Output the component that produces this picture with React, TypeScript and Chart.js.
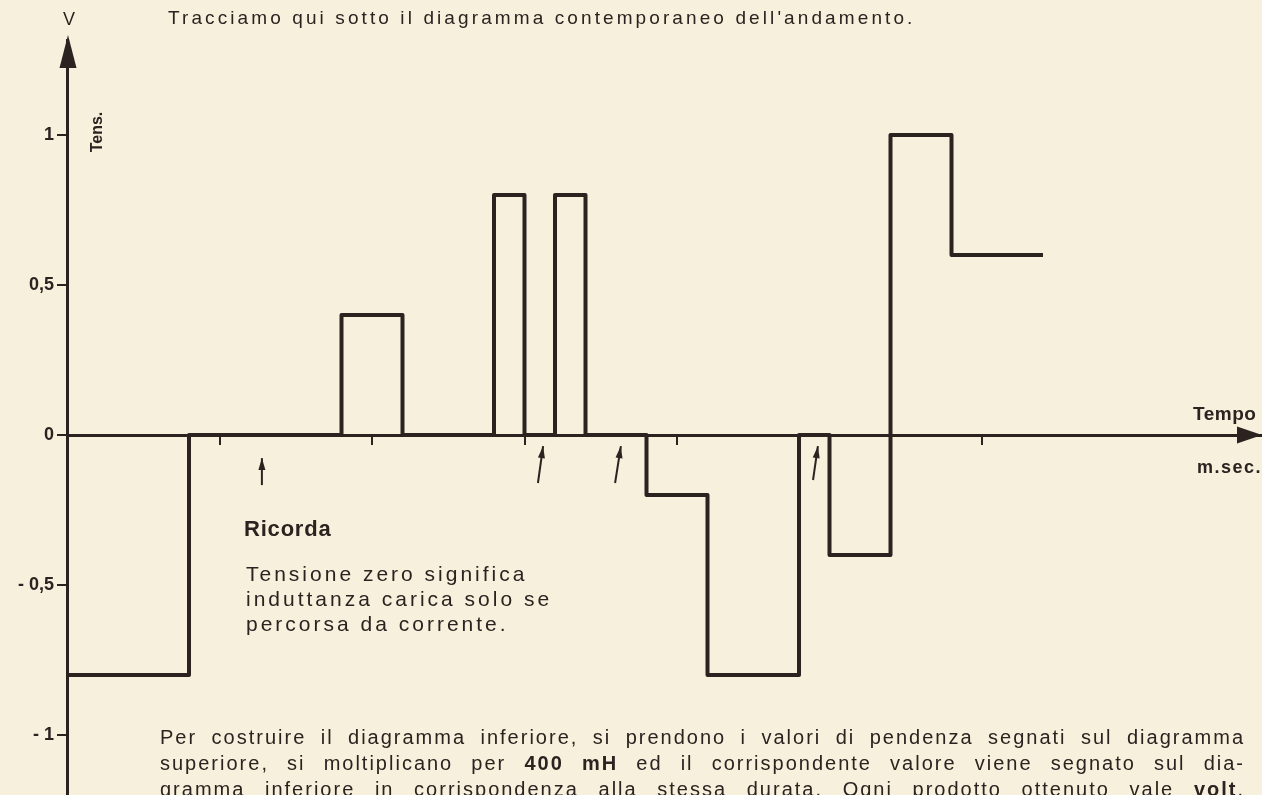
import { useEffect, useRef } from "react";
import { Chart, registerables } from "chart.js";

Chart.register(...registerables);

// ---- data ----
const stepStarts = [0, 4, 9, 11, 14, 15, 16, 17, 19, 21, 24, 25, 27, 29, 32];
const stepValues = [-0.8, 0, 0.4, 0, 0.8, 0, 0.8, 0, -0.2, -0.8, 0, -0.4, 1, 0.6, 0.6];
const yTickValues = [-1, -0.5, 0, 0.5, 1];
const yTickLabels = ["- 1", "- 0,5", "0", "0,5", "1"];
const xTickValues = [5, 10, 15, 20, 25, 30];
const arrowTailX = [6.39, 15.44, 17.97, 24.46];
const arrowTailY = [-0.167, -0.16, -0.16, -0.15];
const arrowTipX = [6.39, 15.61, 18.16, 24.62];
const arrowTipY = [-0.077, -0.037, -0.037, -0.037];
const X_MIN = 0;
const X_MAX = 39.18;
const Y_MIN = -1.2;
const Y_MAX = 1.3167;

const INK = "#2a2320";
const PAPER = "#f6f0dc";
const FONT = '"Liberation Sans", Arial, Helvetica, sans-serif';

function drawArrowHead(ctx: CanvasRenderingContext2D, tx: number, ty: number, fx: number, fy: number, len: number, half: number) {
  const ang = Math.atan2(ty - fy, tx - fx);
  const bx = tx - Math.cos(ang) * len;
  const by = ty - Math.sin(ang) * len;
  const nx = -Math.sin(ang) * half;
  const ny = Math.cos(ang) * half;
  ctx.beginPath();
  ctx.moveTo(tx, ty);
  ctx.lineTo(bx + nx, by + ny);
  ctx.lineTo(bx - nx, by - ny);
  ctx.closePath();
  ctx.fill();
}

const decorPlugin = {
  id: "decor",
  afterDraw(chart: any) {
    const ctx: CanvasRenderingContext2D = chart.ctx;
    const xs = chart.scales.x;
    const ys = chart.scales.y;
    const x0 = xs.getPixelForValue(0);
    const y0 = ys.getPixelForValue(0);
    ctx.save();
    ctx.fillStyle = INK;
    ctx.strokeStyle = INK;
    // axis arrow heads
    drawArrowHead(ctx, x0 + 1, 35, x0 + 1, 100, 33, 8.5);
    drawArrowHead(ctx, chart.width, y0, chart.width - 100, y0, 25, 8.5);

    // small annotation arrows
    ctx.lineWidth = 2;
    for (let i = 0; i < arrowTailX.length; i++) {
      const tx = xs.getPixelForValue(arrowTipX[i]);
      const ty = ys.getPixelForValue(arrowTipY[i]);
      const fx = xs.getPixelForValue(arrowTailX[i]);
      const fy = ys.getPixelForValue(arrowTailY[i]);
      ctx.beginPath();
      ctx.moveTo(fx, fy);
      ctx.lineTo(tx, ty);
      ctx.stroke();
      drawArrowHead(ctx, tx, ty, fx, fy, 12, 3.5);
    }

    // axis labels
    ctx.textBaseline = "alphabetic";
    ctx.font = `18px ${FONT}`;
    ctx.textAlign = "center";
    ctx.fillText("V", x0 + 2, 25);

    ctx.save();
    ctx.translate(102, 132);
    ctx.rotate(-Math.PI / 2);
    ctx.font = `bold 16px ${FONT}`;
    ctx.textAlign = "center";
    ctx.fillText("Tens.", 0, 0);
    ctx.restore();

    ctx.textAlign = "left";
    ctx.font = `bold 19px ${FONT}`;
    (ctx as any).letterSpacing = "0.5px";
    ctx.fillText("Tempo", 1193, 420);
    ctx.font = `bold 18px ${FONT}`;
    (ctx as any).letterSpacing = "1.5px";
    ctx.fillText("m.sec.", 1197, 473);
    (ctx as any).letterSpacing = "0px";
    ctx.restore();
  },
};

export default function App() {
  const ref = useRef<HTMLCanvasElement | null>(null);

  useEffect(() => {
    if (!ref.current) return;
    const points = stepStarts.map((x, i) => ({ x, y: stepValues[i] }));
    const chart = new Chart(ref.current, {
      type: "line",
      data: {
        datasets: [
          {
            data: points,
            stepped: "before",
            borderColor: INK,
            borderWidth: 4,
            borderJoinStyle: "round",
            borderCapStyle: "butt",
            pointRadius: 0,
            fill: false,
          },
        ],
      },
      options: {
        responsive: false,
        animation: false,
        devicePixelRatio: 1,
        layout: { padding: { top: 40, right: 0, bottom: 0, left: 0 } },
        plugins: {
          legend: { display: false },
          tooltip: { enabled: false },
          title: { display: false },
        },
        scales: {
          x: {
            type: "linear",
            min: X_MIN,
            max: X_MAX,
            position: { y: 0 } as any,
            afterFit: (s: any) => {
              s.height = 0;
              s.paddingLeft = 0;
              s.paddingRight = 0;
            },
            afterBuildTicks: (s: any) => {
              s.ticks = xTickValues.map((v) => ({ value: v }));
            },
            ticks: { display: false },
            grid: {
              drawOnChartArea: false,
              drawTicks: true,
              tickLength: 8,
              lineWidth: 2,
              color: INK,
            },
            border: { display: true, color: INK, width: 3 },
          },
          y: {
            type: "linear",
            min: Y_MIN,
            max: Y_MAX,
            position: "left",
            afterFit: (s: any) => {
              s.width = 67;
              s.paddingTop = 0;
              s.paddingBottom = 0;
            },
            afterBuildTicks: (s: any) => {
              s.ticks = yTickValues.map((v) => ({ value: v }));
            },
            ticks: {
              padding: 3,
              color: INK,
              font: { family: FONT, size: 18, weight: "bold" },
              callback: (v: any) => {
                const i = yTickValues.indexOf(Number(v));
                return i >= 0 ? yTickLabels[i] : "";
              },
            },
            grid: {
              drawOnChartArea: false,
              drawTicks: true,
              tickLength: 10,
              lineWidth: 2,
              color: INK,
            },
            border: { display: true, color: INK, width: 3 },
          },
        },
      },
      plugins: [decorPlugin],
    });
    return () => chart.destroy();
  }, []);

  const txt: any = { position: "absolute", color: INK, whiteSpace: "nowrap", fontFamily: FONT };
  const para: any = {
    ...txt,
    left: 160,
    width: 1085,
    fontSize: 20,
    lineHeight: "26px",
    letterSpacing: "2px",
    textAlign: "justify",
    textAlignLast: "justify",
  };

  return (
    <div
      style={{
        position: "fixed",
        left: 0,
        top: 0,
        width: 1262,
        height: 795,
        overflow: "hidden",
        background: PAPER,
        fontFamily: FONT,
      }}
    >
      <canvas ref={ref} width={1262} height={795} style={{ position: "absolute", left: 0, top: 0 }} />
      <div style={{ ...txt, left: 168, top: 8, fontSize: 19, lineHeight: "19px", letterSpacing: "3.1px" }}>
        Tracciamo qui sotto il diagramma contemporaneo dell'andamento.
      </div>
      <div style={{ ...txt, left: 244, top: 518, fontSize: 22, lineHeight: "22px", fontWeight: "bold", letterSpacing: "0.8px" }}>
        Ricorda
      </div>
      <div style={{ ...txt, left: 246, top: 561, fontSize: 21, lineHeight: "25px", letterSpacing: "3px", whiteSpace: "normal", width: 340 }}>
        <div>Tensione zero significa</div>
        <div>induttanza carica solo se</div>
        <div>percorsa da corrente.</div>
      </div>
      <div style={{ ...para, top: 724 }}>
        Per costruire il diagramma inferiore, si prendono i valori di pendenza segnati sul diagramma
      </div>
      <div style={{ ...para, top: 750 }}>
        superiore, si moltiplicano per <b>400 mH</b> ed il corrispondente valore viene segnato sul dia-
      </div>
      <div style={{ ...para, top: 776 }}>
        gramma inferiore in corrispondenza alla stessa durata. Ogni prodotto ottenuto vale <b>volt</b>.
      </div>
    </div>
  );
}
